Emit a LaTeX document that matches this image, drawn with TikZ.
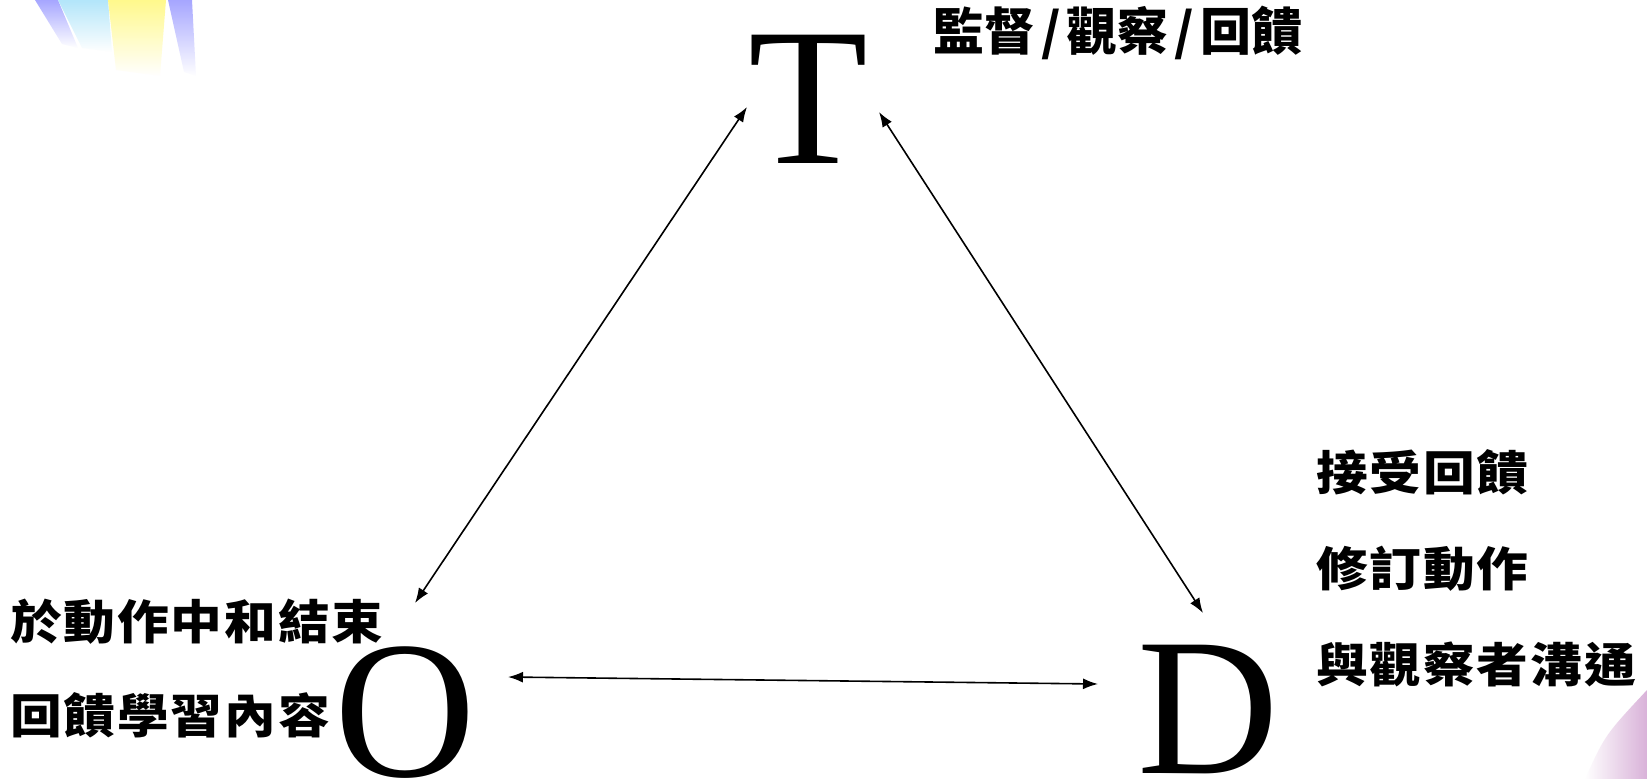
\documentclass[tikz,border=0pt]{standalone}
\usepackage{fontspec}
\setmainfont{Liberation Serif}
\newfontfamily\cjk[FakeStretch=1.1, LetterSpace=4]{Noto Sans CJK TC}
\newfontfamily\cjktop{Noto Sans CJK TC}
\usetikzlibrary{arrows.meta, positioning, fadings}
\newcommand{\sep}{\kern6bp/\kern6bp}
\tikzset{
  letter/.style={
    inner sep=0pt,
    anchor=base,
    font=\fontsize{196bp}{196bp}\selectfont
  },
  note/.style={
    inner sep=0pt,
    anchor=base west,
    font=\cjk\bfseries\fontsize{47bp}{54bp}\selectfont
  },
  top note/.style={
    note,
    font=\cjktop\bfseries\fontsize{51bp}{58bp}\selectfont
  },
  link/.style={
    {Latex[length=15bp,width=11bp]}-{Latex[length=15bp,width=11bp]},
    line width=1.6bp,
    draw=black
  }
}
\begin{document}
\begin{tikzpicture}[x=1bp, y=-1bp]
  \useasboundingbox (0,0) rectangle (1647,779);
  \clip (0,0) rectangle (1647,779);
  \fill[white] (0,0) rectangle (1647,779);

  % corner streaks of the slide
  \fill[blue!35, path fading=south] (35,0) -- (58,0) -- (78,48) -- (62,44) -- cycle;
  \fill[cyan!30, path fading=south] (58,0) -- (108,0) -- (112,52) -- (82,48) -- cycle;
  \fill[yellow!45, path fading=south] (108,0) -- (166,0) -- (160,76) -- (116,70) -- cycle;
  \fill[blue!35, path fading=south] (168,0) -- (192,0) -- (196,76) -- (184,72) -- cycle;
  \fill[violet!30, path fading=west] (1647,690) -- (1647,779) -- (1585,779) .. controls (1605,735) .. cycle;

  % letters
  \node[letter] (T) at (808,163) {T};
  \node[letter] (O) at (405,776) {O};
  \node[letter] (D) at (1208,773) {D};

  % notes
  \node[top note] (tnote) at (933,51) {監督\sep 觀察\sep 回饋};
  \node[note] (onote1) at (10,639) {於動作中和結束};
  \node[note] (onote2) at (10,733) {回饋學習內容};
  \node[note] (dnote1) at (1316,490) {接受回饋};
  \node[note] (dnote2) at (1316,586) {修訂動作};
  \node[note] (dnote3) at (1316,682) {與觀察者溝通};

  % arrow ends
  \coordinate (to-t) at (747,107);
  \coordinate (to-o) at (415,603);
  \coordinate (td-t) at (879,112);
  \coordinate (td-d) at (1203,613);
  \coordinate (od-o) at (508,677);
  \coordinate (od-d) at (1098,684);

  \draw[link] (to-o) -- (to-t);
  \draw[link] (td-t) -- (td-d);
  \draw[link] (od-o) -- (od-d);
\end{tikzpicture}
\end{document}
